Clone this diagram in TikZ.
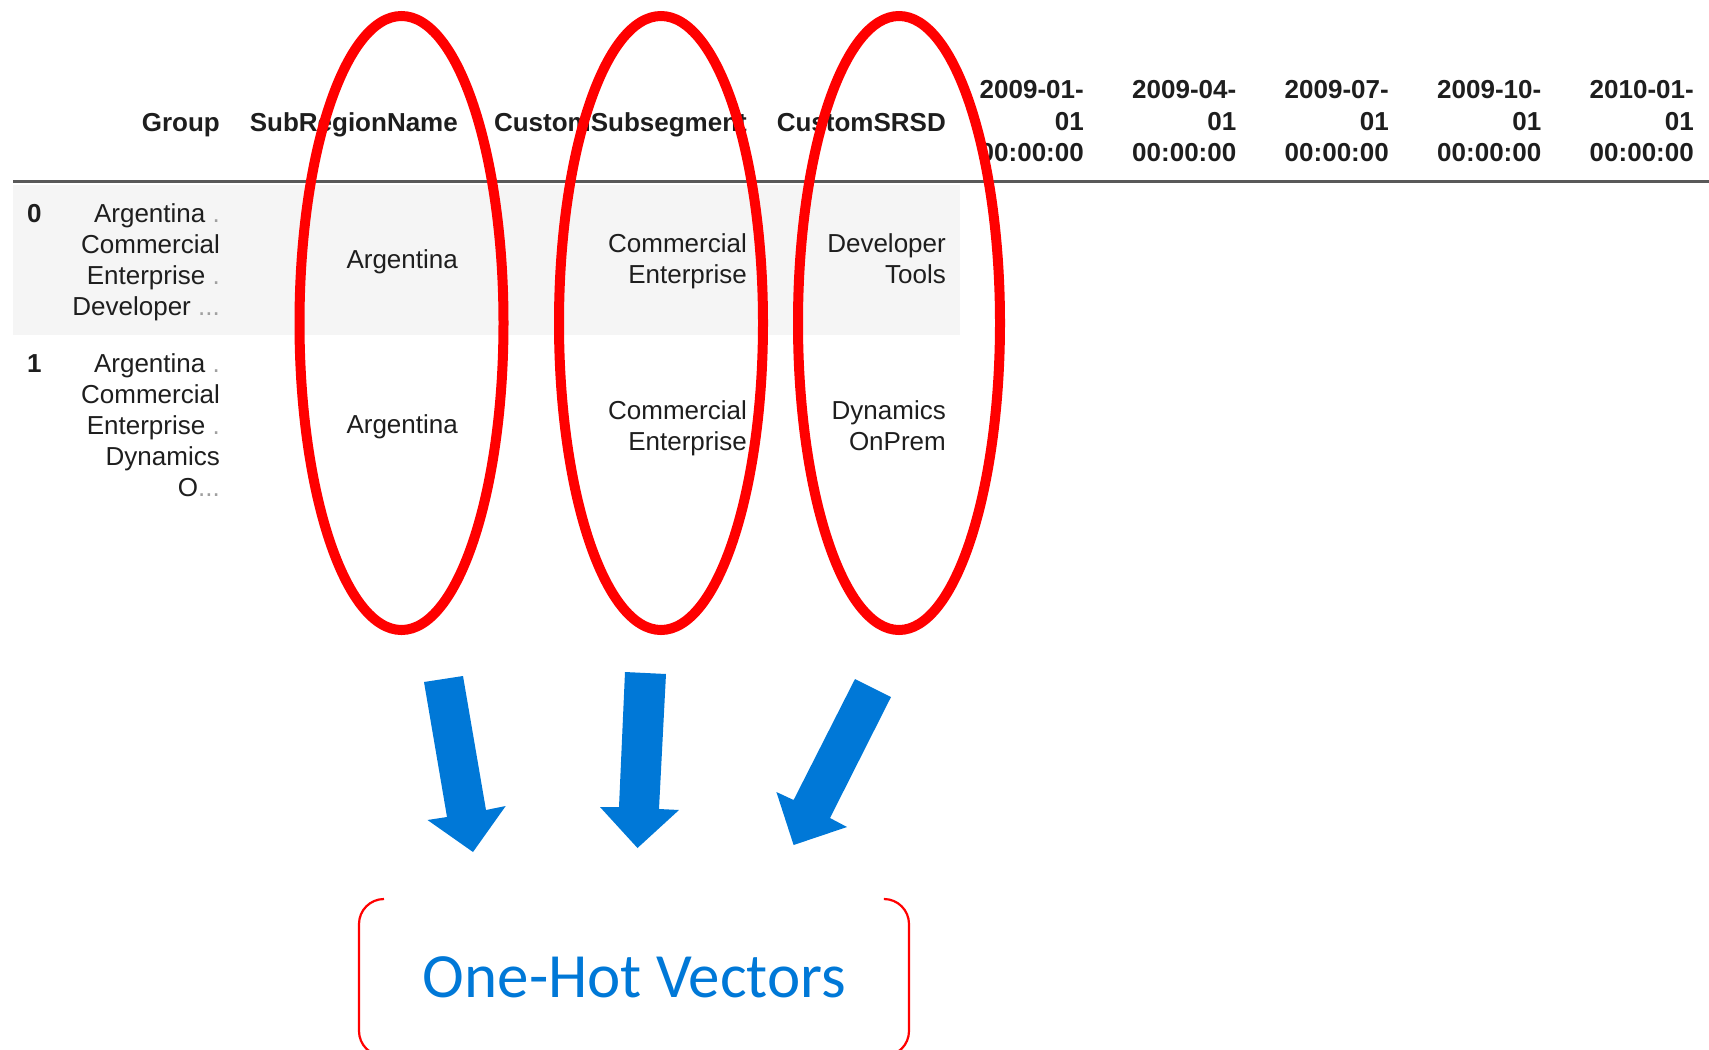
\documentclass[tikz,border=0pt]{standalone}
\usepackage{fontspec}
\setmainfont{Liberation Sans}
\newfontfamily\labelfont{Carlito}
\definecolor{ovalred}{HTML}{FF0000}
\definecolor{arrowblue}{HTML}{0078D7}
\definecolor{cellink}{HTML}{1E1E1E}
\definecolor{stripe}{HTML}{F5F5F5}
\definecolor{rulegray}{HTML}{595959}
\definecolor{fadegray}{HTML}{A0A0A0}
\newcommand{\fade}[1]{{\color{fadegray}#1}}
\begin{document}
\begin{tikzpicture}[x=1pt,y=-1pt,
  cell/.style={inner sep=0pt, anchor=base east, text=cellink, font=\fontsize{26}{31}\selectfont},
  head/.style={cell, font=\fontsize{26}{31}\selectfont\bfseries},
  idx/.style={head, anchor=base west},
  oval/.style={draw=ovalred, line width=10pt},
  blockarrow/.style={fill=arrowblue},
  bracket/.style={draw=ovalred, line width=2.2pt, rounded corners=25pt}]

\useasboundingbox (0,0) rectangle (1709,1050);

% striped first row and header rule
\fill[stripe] (13,185) rectangle (960,335);
\draw[rulegray, line width=3.5pt] (13,181.5) -- (1709,181.5);

% header
\node[head] (hgroup) at (220,131) {Group};
\node[head] (hsub)   at (458,131) {SubRegionName};
\node[head] (hseg)   at (747,131) {CustomSubsegment};
\node[head] (hsrsd)  at (946,131) {CustomSRSD};

\foreach \x/\d [count=\i] in {1084/2009-01-,1236.5/2009-04-,1389/2009-07-,1541.5/2009-10-,1694/2010-01-}{
  \node[head] (d\i a) at (\x,98.5) {\d};
  \node[head] (d\i b) at (\x,130) {01};
  \node[head] (d\i c) at (\x,161.5) {00:00:00};
}

% row 0
\node[idx] (i0) at (27,222) {0};
\node[cell] (g0a) at (220,222) {Argentina \fade{.}};
\node[cell] (g0b) at (220,253) {Commercial};
\node[cell] (g0c) at (220,284) {Enterprise \fade{.}};
\node[cell] (g0d) at (220,315) {Developer \fade{...}};
\node[cell] (s0)  at (458,268) {Argentina};
\node[cell] (c0a) at (747,252) {Commercial};
\node[cell] (c0b) at (747,283) {Enterprise};
\node[cell] (r0a) at (946,252) {Developer};
\node[cell] (r0b) at (946,283) {Tools};

% row 1
\node[idx] (i1) at (27,372) {1};
\node[cell] (g1a) at (220,372) {Argentina \fade{.}};
\node[cell] (g1b) at (220,403) {Commercial};
\node[cell] (g1c) at (220,434) {Enterprise \fade{.}};
\node[cell] (g1d) at (220,465) {Dynamics};
\node[cell] (g1e) at (220,496) {O\fade{...}};
\node[cell] (s1)  at (458,433) {Argentina};
\node[cell] (c1a) at (747,419) {Commercial};
\node[cell] (c1b) at (747,450) {Enterprise};
\node[cell] (r1a) at (946,419) {Dynamics};
\node[cell] (r1b) at (946,450) {OnPrem};

% highlighted categorical columns
\draw[oval] (401.5,323) ellipse [x radius=102, y radius=307];
\draw[oval] (661,323) ellipse [x radius=102, y radius=307];
\draw[oval] (899,323) ellipse [x radius=101, y radius=307];

% block arrows pointing to the encoding
\fill[blockarrow] (424,682) -- (463,676) -- (486,810) -- (505.7,806) -- (473,852)
  -- (427.5,820) -- (447,817) -- cycle;
\fill[blockarrow] (625,672) -- (666,674) -- (659,809) -- (679,810) -- (637.5,848)
  -- (600,807) -- (619,807) -- cycle;
\fill[blockarrow] (855,679) -- (891,697) -- (830,818) -- (847,827) -- (793.6,845)
  -- (776.4,792) -- (793.6,800) -- cycle;

% bracketed label
\node[inner sep=0pt, anchor=base, text=arrowblue, font=\labelfont\fontsize{63}{70}\selectfont]
  (ohv) at (634.5,997) {One-Hot Vectors};
\draw[bracket] (384,899) -- (359,899) -- (359,1056) -- (384,1056);
\draw[bracket] (885,899) -- (909,899) -- (909,1056) -- (885,1056);
\end{tikzpicture}
\end{document}
